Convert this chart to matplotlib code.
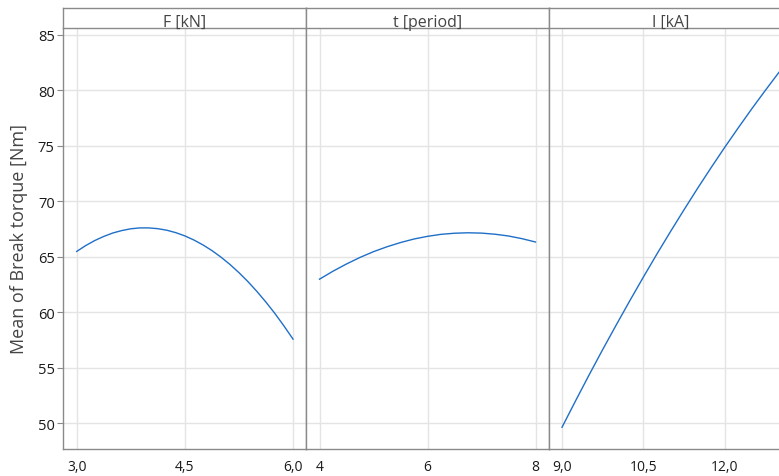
import matplotlib
matplotlib.use("Agg")
import matplotlib.pyplot as plt
from matplotlib.ticker import FuncFormatter

plt.rcParams['font.family'] = ['Open Sans', 'DejaVu Sans']

# ---- data ----
F_x = [3.0, 3.125, 3.25, 3.375, 3.5, 3.625, 3.75, 3.875, 4.0, 4.125, 4.25, 4.375,
       4.5, 4.625, 4.75, 4.875, 5.0, 5.125, 5.25, 5.375, 5.5, 5.625, 5.75, 5.875, 6.0]
F_y = [65.50, 66.03, 66.48, 66.85, 67.16, 67.38, 67.54, 67.62, 67.62, 67.55, 67.41, 67.19,
       66.90, 66.53, 66.09, 65.58, 64.99, 64.33, 63.59, 62.78, 61.89, 60.93, 59.90, 58.78, 57.60]

t_x = [4.0, 4.25, 4.5, 4.75, 5.0, 5.25, 5.5, 5.75, 6.0, 6.25, 6.5, 6.75, 7.0, 7.25, 7.5, 7.75, 8.0]
t_y = [63.00, 63.72, 64.37, 64.96, 65.48, 65.92, 66.30, 66.62, 66.86, 67.04, 67.14, 67.18,
       67.15, 67.05, 66.89, 66.65, 66.35]

I_x = [9.0, 9.25, 9.5, 9.75, 10.0, 10.25, 10.5, 10.75, 11.0, 11.25, 11.5, 11.75,
       12.0, 12.25, 12.5, 12.75, 13.0]
I_y = [49.66, 52.04, 54.38, 56.66, 58.88, 61.06, 63.19, 65.27, 67.29, 69.26, 71.19, 73.06,
       74.88, 76.64, 78.36, 80.02, 81.64]

panel_titles = ["F [kN]", "t [period]", "I [kA]"]
x_ticks = [[3.0, 4.5, 6.0], [4, 6, 8], [9.0, 10.5, 12.0]]
x_decimals = [1, 0, 1]
x_limits = [(2.81, 6.18), (3.75, 8.25), (8.76, 13.24)]
y_ticks = [50, 55, 60, 65, 70, 75, 80, 85]
y_limits = (47.7, 85.63)
y_label = "Mean of Break torque [Nm]"

series = [(F_x, F_y), (t_x, t_y), (I_x, I_y)]

# ---- layout in pixels ----
W, H = 779, 477
fig = plt.figure(figsize=(W / 100, H / 100), dpi=100)
left_px = [63, 306, 549]
width_px = 243
top_px, bottom_px = 29, 450
head_top = 9

line_col = "#1f6fc8"
grid_col = "#e4e4e4"
spine_col = "#8a8a8a"
text_col = "#1a1a1a"

for i in range(3):
    l = left_px[i] / W
    w = width_px / W
    b = (H - bottom_px) / H
    h = (bottom_px - top_px) / H
    ax = fig.add_axes([l, b, w, h])
    xs, ys = series[i]
    ax.plot(xs, ys, color=line_col, lw=1.0)
    ax.set_xlim(*x_limits[i])
    ax.set_ylim(*y_limits)
    ax.set_xticks(x_ticks[i])
    d = x_decimals[i]
    ax.xaxis.set_major_formatter(FuncFormatter(lambda v, p, d=d: (f"{v:.{d}f}").replace('.', ',')))
    ax.set_yticks(y_ticks)
    ax.grid(True, color=grid_col, lw=1.0)
    ax.set_axisbelow(True)
    for s in ax.spines.values():
        s.set_color(spine_col)
        s.set_linewidth(1.0)
    ax.spines['top'].set_visible(False)
    ax.tick_params(axis='x', length=0, pad=7, labelsize=10, labelcolor=text_col)
    if i == 0:
        ax.tick_params(axis='y', length=4, color=spine_col, pad=2, labelsize=10.5, labelcolor=text_col)
        ax.set_ylabel(y_label, fontsize=13, color="#444444", labelpad=7)
    else:
        ax.tick_params(axis='y', length=0, labelleft=False)
    if i == 2:
        ax.spines['right'].set_visible(False)

    # header strip
    hax = fig.add_axes([l, (H - top_px) / H, w, (top_px - head_top) / H])
    hax.set_xticks([])
    hax.set_yticks([])
    for s in hax.spines.values():
        s.set_color(spine_col)
        s.set_linewidth(1.0)
    hax.text(0.5, 0.1, panel_titles[i], ha='center', va='baseline',
             fontsize=11.5, color="#444444", transform=hax.transAxes)

fig.savefig("out.png", dpi=100)
